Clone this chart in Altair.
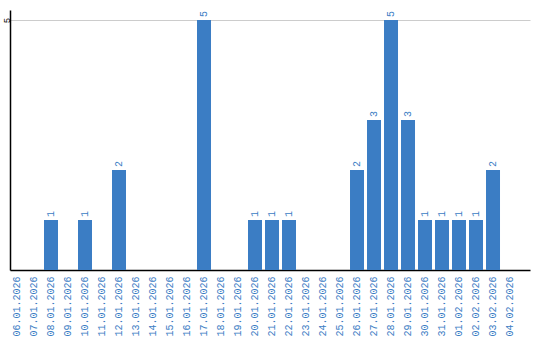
import altair as alt
import pandas as pd

dates = ["06.01.2026", "07.01.2026", "08.01.2026", "09.01.2026", "10.01.2026",
         "11.01.2026", "12.01.2026", "13.01.2026", "14.01.2026", "15.01.2026",
         "16.01.2026", "17.01.2026", "18.01.2026", "19.01.2026", "20.01.2026",
         "21.01.2026", "22.01.2026", "23.01.2026", "24.01.2026", "25.01.2026",
         "26.01.2026", "27.01.2026", "28.01.2026", "29.01.2026", "30.01.2026",
         "31.01.2026", "01.02.2026", "02.02.2026", "03.02.2026", "04.02.2026"]
counts = [0, 0, 1, 0, 1, 0, 2, 0, 0, 0, 0, 5, 0, 0, 1, 1, 1, 0, 0, 0,
          2, 3, 5, 3, 1, 1, 1, 1, 2, 0]

df = pd.DataFrame({"date": dates, "count": counts})
df["label"] = df["count"].apply(lambda v: str(v) if v > 0 else "")

blue = "#3b7dc4"
font = "Liberation Mono"

xscale = alt.Scale(domain=dates, paddingInner=3/17, paddingOuter=0.382, align=0)
yscale = alt.Scale(domain=[0, 5.2], nice=False)

base = alt.Chart(df).encode(
    x=alt.X("date:N", sort=dates, scale=xscale,
            axis=alt.Axis(title=None, labelAngle=-90, labelColor=blue, labelFont=font,
                          labelFontSize=10, ticks=False, labelPadding=6,
                          domainColor="#000000", domainWidth=1.5, labelAlign="right",
                          labelBaseline="middle")),
)

bars = base.mark_bar(color=blue).encode(
    y=alt.Y("count:Q", scale=yscale,
            axis=alt.Axis(title=None, values=[5], labelAngle=-90, labelFont=font,
                          labelFontSize=9, labelColor="#000000", ticks=False,
                          labelPadding=4, domainColor="#000000", domainWidth=1.5,
                          gridColor="#cccccc", labelAlign="center",
                          labelBaseline="middle"))
)

texts = base.mark_text(angle=270, align="left", baseline="middle", dx=3,
                       color=blue, font=font, fontSize=10).encode(
    y=alt.Y("count:Q", scale=yscale),
    text="label:N",
)

chart = (bars + texts).properties(
    width=520, height=260,
    autosize=alt.AutoSizeParams(type="none"),
    padding={"left": 10, "top": 10, "right": 10, "bottom": 70},
).configure_view(stroke=None).configure_axisX(grid=False)

chart.save("out.html", embed_options={"renderer": "svg", "actions": False})
